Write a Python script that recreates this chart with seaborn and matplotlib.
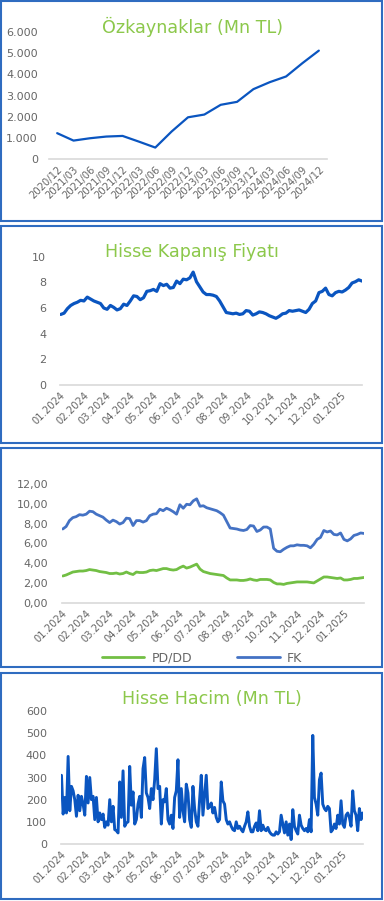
import numpy as np
import pandas as pd
import matplotlib
matplotlib.use("Agg")
from matplotlib import pyplot as plt
from matplotlib.patches import Rectangle
import matplotlib.dates as mdates
from matplotlib.ticker import FuncFormatter, MultipleLocator
import seaborn as sns

# --- data ---
quarters = ["2020/12", "2021/03", "2021/06", "2021/09", "2021/12", "2022/03", "2022/06",
            "2022/09", "2022/12", "2023/03", "2023/06", "2023/09", "2023/12", "2024/03",
            "2024/06", "2024/09", "2024/12"]
ozkaynak = [1220, 870, 980, 1060, 1090, 820, 540, 1300, 1970, 2100, 2560, 2700,
            3300, 3630, 3900, 4530, 5120]

price = [5.5, 5.6, 5.95, 6.2, 6.35, 6.45, 6.6, 6.55, 6.85, 6.7, 6.55, 6.45, 6.35, 6.0,
         5.9, 6.2, 6.05, 5.85, 5.95, 6.3, 6.2, 6.55, 6.95, 6.9, 6.65, 6.8, 7.3, 7.35,
         7.45, 7.3, 7.9, 7.75, 7.85, 7.55, 7.6, 8.1, 7.9, 8.25, 8.2, 8.35, 8.8, 8.05,
         7.65, 7.25, 7.05, 7.05, 7.0, 6.9, 6.55, 6.1, 5.65, 5.6, 5.55, 5.6, 5.5, 5.55,
         5.8, 5.75, 5.45, 5.55, 5.7, 5.65, 5.55, 5.4, 5.3, 5.2, 5.35, 5.55, 5.6, 5.8,
         5.75, 5.8, 5.85, 5.75, 5.65, 5.9, 6.35, 6.55, 7.2, 7.3, 7.55, 7.05, 6.95, 7.2,
         7.3, 7.25, 7.4, 7.6, 7.95, 8.05, 8.2, 8.1]

fk = [7.45, 7.7, 8.3, 8.6, 8.7, 8.9, 8.85, 8.95, 9.25, 9.2, 8.95, 8.8, 8.65, 8.35, 8.1,
      8.35, 8.2, 7.95, 8.1, 8.55, 8.5, 7.8, 8.3, 8.3, 8.15, 8.3, 8.8, 8.95, 9.0, 9.45,
      9.3, 9.55, 9.4, 9.2, 8.95, 9.9, 9.55, 9.95, 9.9, 10.3, 10.5, 9.75, 9.8, 9.6, 9.5,
      9.4, 9.3, 9.1, 8.85, 8.2, 7.55, 7.5, 7.45, 7.35, 7.3, 7.4, 7.8, 7.75, 7.2, 7.35,
      7.65, 7.65, 7.45, 5.5, 5.2, 5.15, 5.4, 5.6, 5.75, 5.75, 5.85, 5.8, 5.8, 5.75, 5.55,
      5.9, 6.4, 6.6, 7.3, 7.15, 7.25, 6.9, 6.85, 7.05, 6.4, 6.25, 6.45, 6.8, 6.9, 7.05, 7.0]
pddd = [2.7, 2.8, 2.95, 3.1, 3.15, 3.2, 3.2, 3.25, 3.35, 3.3, 3.25, 3.15, 3.1, 3.05, 2.95,
        2.95, 3.0, 2.9, 2.95, 3.1, 2.95, 2.85, 3.1, 3.05, 3.05, 3.1, 3.25, 3.3, 3.25, 3.35,
        3.45, 3.45, 3.35, 3.3, 3.35, 3.55, 3.7, 3.5, 3.6, 3.75, 3.9, 3.4, 3.15, 3.05, 2.95,
        2.9, 2.85, 2.8, 2.75, 2.5, 2.3, 2.3, 2.3, 2.25, 2.25, 2.3, 2.4, 2.3, 2.25, 2.35,
        2.35, 2.35, 2.3, 2.05, 1.9, 1.9, 1.85, 1.95, 2.0, 2.05, 2.1, 2.1, 2.1, 2.1, 2.05,
        2.0, 2.2, 2.4, 2.6, 2.6, 2.55, 2.5, 2.45, 2.5, 2.3, 2.3, 2.35, 2.45, 2.45, 2.5, 2.55]

hacim = [310, 135, 210, 140, 395, 150, 260, 240, 200, 125, 220, 150, 215, 180, 130, 305,
         185, 300, 200, 215, 110, 210, 100, 140, 110, 135, 75, 100, 85, 200, 100, 170, 65,
         60, 50, 280, 120, 330, 80, 95, 100, 350, 175, 235, 90, 110, 180, 215, 120, 340,
         390, 230, 210, 160, 250, 200, 290, 430, 250, 260, 90, 200, 190, 250, 110, 90, 130,
         70, 210, 240, 380, 120, 250, 150, 100, 270, 230, 110, 75, 260, 160, 100, 80, 200,
         310, 130, 220, 310, 160, 170, 185, 140, 165, 120, 100, 110, 280, 195, 180, 110, 90,
         100, 80, 65, 60, 100, 70, 80, 65, 55, 80, 100, 145, 80, 55, 55, 80, 95, 60, 150, 60,
         85, 65, 60, 75, 55, 45, 40, 40, 55, 45, 55, 130, 90, 50, 100, 40, 90, 20, 155, 80,
         60, 45, 130, 85, 70, 60, 70, 55, 110, 55, 490, 210, 180, 130, 290, 320, 180, 160,
         150, 170, 160, 55, 65, 90, 70, 130, 90, 195, 90, 75, 130, 140, 120, 80, 240, 150,
         130, 60, 160, 110, 140]

price_dates = pd.date_range("2024-01-02", "2025-01-29", periods=len(price))
ratio_dates = pd.date_range("2024-01-02", "2025-01-27", periods=len(fk))
vol_dates = pd.date_range("2024-01-02", "2025-01-28", periods=len(hacim))

# --- style ---
sns.set_style("white")
plt.rcParams["font.family"] = ["DejaVu Sans"]

W, H = 384, 901
LINE = "#0A55C0"
FKC = "#4472C4"
GREEN = "#72BF44"
TITLE = "#8CC84B"
TICK = "#666666"
AXL = "#D9D9D9"
BORDER = "#2F6CC0"

fig = plt.figure(figsize=(W / 100, H / 100), dpi=100)


def px_axes(left, right, top, bottom):
    return fig.add_axes([left / W, 1 - bottom / H, (right - left) / W, (bottom - top) / H])


def style(ax):
    sns.despine(ax=ax, left=True, top=True, right=True)
    ax.spines["bottom"].set_color(AXL)
    ax.spines["bottom"].set_linewidth(1.2)
    ax.tick_params(axis="y", length=0, labelsize=8, labelcolor=TICK, pad=10)
    ax.tick_params(axis="x", length=3, color=AXL, labelsize=7.2, labelcolor=TICK, pad=1)
    ax.set_xlabel("")
    ax.set_ylabel("")
    ax.set_facecolor("none")
    for lab in ax.get_xticklabels():
        lab.set_rotation(45)
        lab.set_ha("right")
        lab.set_rotation_mode("anchor")


def date_axis(ax, end):
    ax.xaxis.set_major_locator(mdates.MonthLocator())
    ax.xaxis.set_major_formatter(mdates.DateFormatter("%m.%Y"))
    ax.set_xlim(pd.Timestamp("2024-01-01"), end)


for y0, y1 in [(1, 221), (226, 443), (448, 667), (673, 899)]:
    fig.patches.append(Rectangle((1 / W, 1 - y1 / H), 381 / W, (y1 - y0) / H,
                                 transform=fig.transFigure, fill=False,
                                 edgecolor=BORDER, lw=1.5))

# 1) Özkaynaklar
ax1 = px_axes(49, 327, 32, 159)
df1 = pd.DataFrame({"q": quarters, "v": ozkaynak})
sns.lineplot(data=df1, x="q", y="v", ax=ax1, color=LINE, lw=1.6, sort=False)
ax1.set_xlim(-0.5, len(quarters) - 0.5)
ax1.set_ylim(0, 6000)
ax1.yaxis.set_major_locator(MultipleLocator(1000))
ax1.yaxis.set_major_formatter(FuncFormatter(lambda v, p: f"{v:,.0f}".replace(",", ".")))
ax1.set_xticks(range(len(quarters)))
ax1.set_xticklabels(quarters)
style(ax1)
ax1.tick_params(axis="y", pad=8)
fig.text(192 / W, 1 - 27 / H, "Özkaynaklar (Mn TL)", ha="center", va="center",
         color=TITLE, fontsize=12.6)

# 2) Hisse Kapanış Fiyatı
ax2 = px_axes(60, 362, 256.7, 385)
df2 = pd.DataFrame({"d": price_dates, "v": price})
sns.lineplot(data=df2, x="d", y="v", ax=ax2, color=LINE, lw=2.3)
ax2.set_ylim(0, 10)
ax2.yaxis.set_major_locator(MultipleLocator(2))
date_axis(ax2, price_dates[-1])
style(ax2)
fig.text(192 / W, 1 - 252 / H, "Hisse Kapanış Fiyatı", ha="center", va="center",
         color=TITLE, fontsize=12.6)

# 3) PD/DD - FK
ax3 = px_axes(62, 364, 484, 602.7)
df3 = pd.DataFrame({"d": ratio_dates, "PD/DD": pddd, "FK": fk}).melt(
    id_vars="d", var_name="seri", value_name="v")
sns.lineplot(data=df3, x="d", y="v", hue="seri", ax=ax3,
             palette={"PD/DD": GREEN, "FK": FKC}, lw=2.0)
ax3.set_ylim(0, 12)
ax3.yaxis.set_major_locator(MultipleLocator(2))
ax3.yaxis.set_major_formatter(FuncFormatter(lambda v, p: f"{v:.2f}".replace(".", ",")))
date_axis(ax3, ratio_dates[-1])
style(ax3)
ax3.legend(loc="center", bbox_to_anchor=(202 / W, 1 - 658 / H), bbox_transform=fig.transFigure,
           ncol=2, frameon=False, fontsize=9, handlelength=3.4, columnspacing=3.6,
           handletextpad=0.6, labelcolor=TICK)

# 4) Hisse Hacim
ax4 = px_axes(60.7, 362.7, 711, 844)
df4 = pd.DataFrame({"d": vol_dates, "v": hacim})
sns.lineplot(data=df4, x="d", y="v", ax=ax4, color=LINE, lw=2.1)
ax4.set_ylim(0, 600)
ax4.yaxis.set_major_locator(MultipleLocator(100))
date_axis(ax4, vol_dates[-1])
style(ax4)
fig.text(212 / W, 1 - 699 / H, "Hisse Hacim (Mn TL)", ha="center", va="center",
         color=TITLE, fontsize=12.6)

fig.savefig("out.png", dpi=100)
